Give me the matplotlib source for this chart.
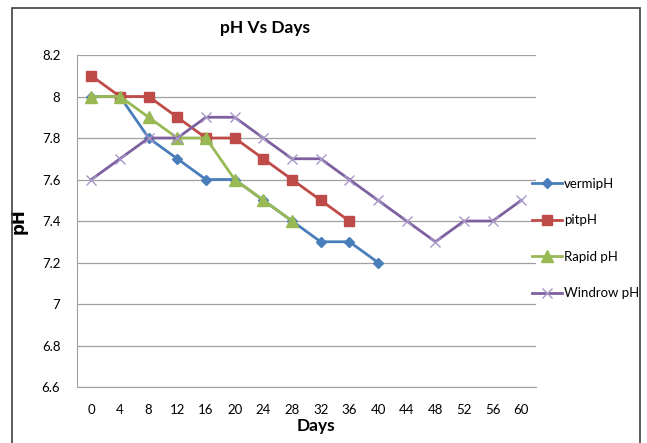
import numpy as np
import matplotlib.pyplot as plt
from matplotlib.patches import Rectangle

days = ['0', '4', '8', '12', '16', '20', '24', '28', '32', '36', '40', '44', '48', '52', '56', '60']
vermi_ph = [8.0, 8.0, 7.8, 7.7, 7.6, 7.6, 7.5, 7.4, 7.3, 7.3, 7.2]
pit_ph = [8.1, 8.0, 8.0, 7.9, 7.8, 7.8, 7.7, 7.6, 7.5, 7.4]
rapid_ph = [8.0, 8.0, 7.9, 7.8, 7.8, 7.6, 7.5, 7.4]
windrow_ph = [7.6, 7.7, 7.8, 7.8, 7.9, 7.9, 7.8, 7.7, 7.7, 7.6, 7.5, 7.4, 7.3, 7.4, 7.4, 7.5]

tickfont = 'Lato'

fig = plt.figure(figsize=(6.47, 4.43), dpi=100)
# outer chart frame
fig.patches.append(Rectangle((12/647, -0.05), 628/647, 1 - 8/443 + 0.05,
                             transform=fig.transFigure, fill=False,
                             edgecolor='#404040', linewidth=1.2))

ax = fig.add_axes([0.119, 0.1264, 0.709, 0.7494])
x = np.arange(len(days))

ax.plot(x[:len(vermi_ph)], vermi_ph, color='#4A7EBB', lw=2, marker='D', ms=5, label='vermipH')
ax.plot(x[:len(pit_ph)], pit_ph, color='#BE4B48', lw=2, marker='s', ms=7, label='pitpH')
ax.plot(x[:len(rapid_ph)], rapid_ph, color='#98B954', lw=2, marker='^', ms=8, label='Rapid pH')
ax.plot(x[:len(windrow_ph)], windrow_ph, color='#7D60A0', lw=2, marker='x', ms=7,
        mec='#A898C8', mew=1, label='Windrow pH')

ax.set_xlim(-0.5, len(days) - 0.5)
ax.set_ylim(6.6, 8.2)
yt = np.round(np.arange(6.6, 8.21, 0.2), 1)
ax.set_yticks(yt)
ax.set_yticklabels([f'{v:g}' for v in yt], fontfamily=tickfont, fontsize=9.5)
ax.set_xticks(x)
ax.set_xticklabels(days, fontfamily=tickfont, fontsize=9.5)
ax.tick_params(length=0, pad=12)
ax.tick_params(axis='y', pad=12)
ax.grid(axis='y', color='#A0A0A0', lw=0.9)
ax.set_axisbelow(True)
for s in ['top', 'right']:
    ax.spines[s].set_visible(False)
ax.spines['left'].set_color('#A0A0A0')
ax.spines['bottom'].set_color('#A0A0A0')

ax.set_xlabel('Days', fontsize=12.5, fontweight='bold', fontfamily=tickfont)
ax.xaxis.set_label_coords((316 - 77) / 459, -(418 - 387) / 332)
ax.set_ylabel('pH', fontsize=12, fontweight='bold', fontfamily='DejaVu Sans')
ax.yaxis.set_label_coords(-(28 - 77) / -459, 0.5)
fig.text(265/647, 1 - 28/443, 'pH Vs Days', ha='center', va='center',
         fontsize=12.5, fontweight='bold', fontfamily=tickfont)

fig.legend(loc='upper left', bbox_to_anchor=(532/647, 1 - 178/443), frameon=False,
           prop={'family': tickfont, 'size': 9.5}, handlelength=2.3, handletextpad=0.1,
           labelspacing=1.85, borderpad=0, borderaxespad=0)

plt.savefig('out.png', dpi=100)
